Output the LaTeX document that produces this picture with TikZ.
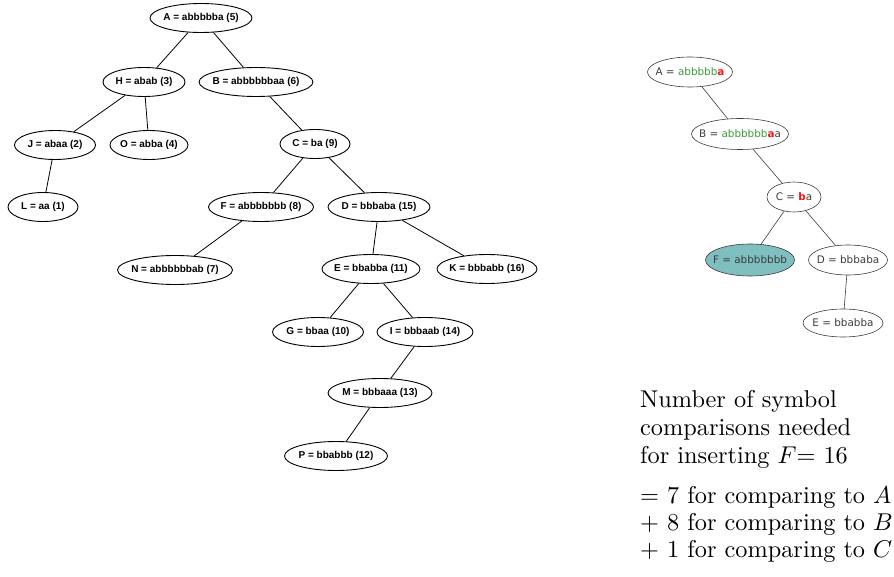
\documentclass[tikz,border=0pt]{standalone}
\usepackage{fontspec}
\usetikzlibrary{shapes.geometric}
\newfontfamily\treefont{Liberation Sans}
\newfontfamily\rtfont{DejaVu Sans}
\definecolor{okgreen}{HTML}{3A9A3A}
\definecolor{hitred}{HTML}{FF1010}
\definecolor{tealfill}{HTML}{7FBFBF}
\definecolor{rtgray}{HTML}{3C3C3C}
\newcommand{\hit}[1]{\textcolor{hitred}{\bfseries #1}}
\newcommand{\ok}[1]{\textcolor{okgreen}{#1}}
\newcommand{\bigtxt}[1]{\scalebox{2.43}{\fontsize{10}{12}\selectfont #1}}
\tikzset{
  lnode/.style={ellipse, draw, line width=0.9pt, inner sep=0pt, minimum height=29pt,
    font=\treefont\bfseries\fontsize{10}{12}\selectfont},
  rnode/.style={ellipse, draw=rtgray, line width=0.6pt, inner sep=0pt, minimum height=30pt,
    font=\rtfont\fontsize{10.4}{12}\selectfont, text=rtgray},
  ledge/.style={line width=0.8pt},
  redge/.style={line width=0.6pt, draw=rtgray},
  txt/.style={anchor=base west, inner sep=0pt}
}
\newcommand{\zb}[1]{\makebox[0pt][c]{#1}}
\begin{document}
\begin{tikzpicture}[x=1pt,y=-1pt]
\useasboundingbox (0,0) rectangle (894,577);
% left tree
\node[lnode, minimum width=102pt] (A) at (201,18) {\zb{A = abbbbba (5)}};
\node[lnode, minimum width=82pt] (H) at (144,82) {\zb{H = abab (3)}};
\node[lnode, minimum width=114pt] (B) at (256,82) {\zb{B = abbbbbbaa (6)}};
\node[lnode, minimum width=81pt] (J) at (55,145) {\zb{J = abaa (2)}};
\node[lnode, minimum width=78pt] (O) at (149,145) {\zb{O = abba (4)}};
\node[lnode, minimum width=70pt] (L) at (43,207) {\zb{L = aa (1)}};
\node[lnode, minimum width=70pt] (C) at (315,144) {\zb{C = ba (9)}};
\node[lnode, minimum width=105pt] (F) at (261,207) {\zb{F = abbbbbbb (8)}};
\node[lnode, minimum width=102pt] (D) at (379,207) {\zb{D = bbbaba (15)}};
\node[lnode, minimum width=115pt] (N) at (175,270) {\zb{N = abbbbbbab (7)}};
\node[lnode, minimum width=98pt] (E) at (371,269) {\zb{E = bbabba (11)}};
\node[lnode, minimum width=100pt] (K) at (487,269) {\zb{K = bbbabb (16)}};
\node[lnode, minimum width=91pt] (G) at (318,332) {\zb{G = bbaa (10)}};
\node[lnode, minimum width=96pt] (I) at (425,332) {\zb{I = bbbaab (14)}};
\node[lnode, minimum width=104pt] (M) at (380,393) {\zb{M = bbbaaa (13)}};
\node[lnode, minimum width=103pt] (P) at (336,456) {\zb{P = bbabbb (12)}};
\draw[ledge] (A) -- (H);
\draw[ledge] (A) -- (B);
\draw[ledge] (H) -- (J);
\draw[ledge] (H) -- (O);
\draw[ledge] (J) -- (L);
\draw[ledge] (B) -- (C);
\draw[ledge] (C) -- (F);
\draw[ledge] (C) -- (D);
\draw[ledge] (F) -- (N);
\draw[ledge] (D) -- (E);
\draw[ledge] (D) -- (K);
\draw[ledge] (E) -- (G);
\draw[ledge] (E) -- (I);
\draw[ledge] (I) -- (M);
\draw[ledge] (M) -- (P);
% right tree
\node[rnode, minimum width=85pt] (rA) at (690,72) {\zb{A = \ok{abbbbb}\hit{a}}};
\node[rnode, minimum width=97pt, minimum height=31pt] (rB) at (740,134) {\zb{B = \ok{abbbbbb}\hit{a}a}};
\node[rnode, minimum width=54pt] (rC) at (794,197) {\zb{C = \hit{b}a}};
\node[rnode, minimum width=89pt, minimum height=32pt, fill=tealfill] (rF) at (750,260) {\zb{F = abbbbbbb}};
\node[rnode, minimum width=79pt] (rD) at (848,260) {\zb{D = bbbaba}};
\node[rnode, minimum width=80pt, minimum height=28pt] (rE) at (843,323) {\zb{E = bbabba}};
\draw[redge] (rA) -- (rB);
\draw[redge] (rB) -- (rC);
\draw[redge] (rC) -- (rF);
\draw[redge] (rC) -- (rD);
\draw[redge] (rD) -- (rE);
% text
\node[txt] (t1) at (640,407) {\bigtxt{Number of symbol}};
\node[txt] (t2) at (640,435) {\bigtxt{comparisons needed}};
\node[txt] (t3) at (640,463) {\bigtxt{for inserting $F$= 16}};
\node[txt] (t4) at (640,503) {\bigtxt{= 7 for comparing to $A$}};
\node[txt] (t5) at (640,530) {\bigtxt{+ 8 for comparing to $B$}};
\node[txt] (t6) at (640,557) {\bigtxt{+ 1 for comparing to $C$}};
\end{tikzpicture}
\end{document}
